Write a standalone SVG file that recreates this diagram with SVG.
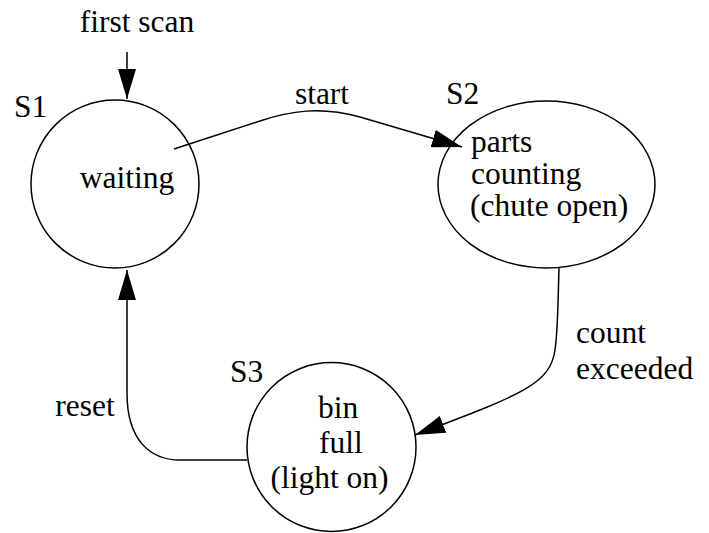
<svg xmlns="http://www.w3.org/2000/svg" width="709" height="533" viewBox="0 0 709 533">
<style>
text { font-family: "Liberation Serif", "Times New Roman", serif; font-size: 31.5px; fill: #000; }
.node { fill: #fff; stroke: #000; stroke-width: 1.5; }
.edge { fill: none; stroke: #000; stroke-width: 1.5; marker-end: url(#arrow); }
</style>
<defs>
<marker id="arrow" markerUnits="userSpaceOnUse" markerWidth="30" markerHeight="18" refX="30" refY="9" orient="auto" viewBox="0 0 30 18">
<path d="M0,0 L30,9 L0,18 Z" fill="#000"/>
</marker>
</defs>
<rect width="709" height="533" fill="#fff"/>
<g id="S1">
<circle class="node" cx="115" cy="184" r="84"/>
<text x="14" y="117">S1</text>
<text x="127" y="188" text-anchor="middle">waiting</text>
</g>
<g id="S2">
<ellipse class="node" cx="546.5" cy="184.5" rx="108.5" ry="83.5"/>
<text x="446" y="104">S2</text>
<text x="471" y="152">parts</text>
<text x="471" y="184">counting</text>
<text x="470" y="216">(chute open)</text>
</g>
<g id="S3">
<circle class="node" cx="331.5" cy="447" r="84.5"/>
<text x="230" y="382">S3</text>
<text x="318" y="418">bin</text>
<text x="319" y="453">full</text>
<text x="270.5" y="488">(light on)</text>
</g>
<g id="connectors">
<path class="edge" d="M127,52 L127,99"/>
<text x="137" y="32" text-anchor="middle">first scan</text>
<path class="edge" d="M174,149 L260,121 C290,111 320,106 360,117 L462,147"/>
<text x="322" y="104" text-anchor="middle">start</text>
<path class="edge" d="M559,268 C558,300 558,330 555,350 C550,385 520,395 415,435"/>
<text x="576" y="343">count</text>
<text x="576" y="379">exceeded</text>
<path class="edge" d="M247,460 L180,460 C150,460 127,440 127,393 L127,270"/>
<text x="85" y="416" text-anchor="middle">reset</text>
</g>
</svg>
